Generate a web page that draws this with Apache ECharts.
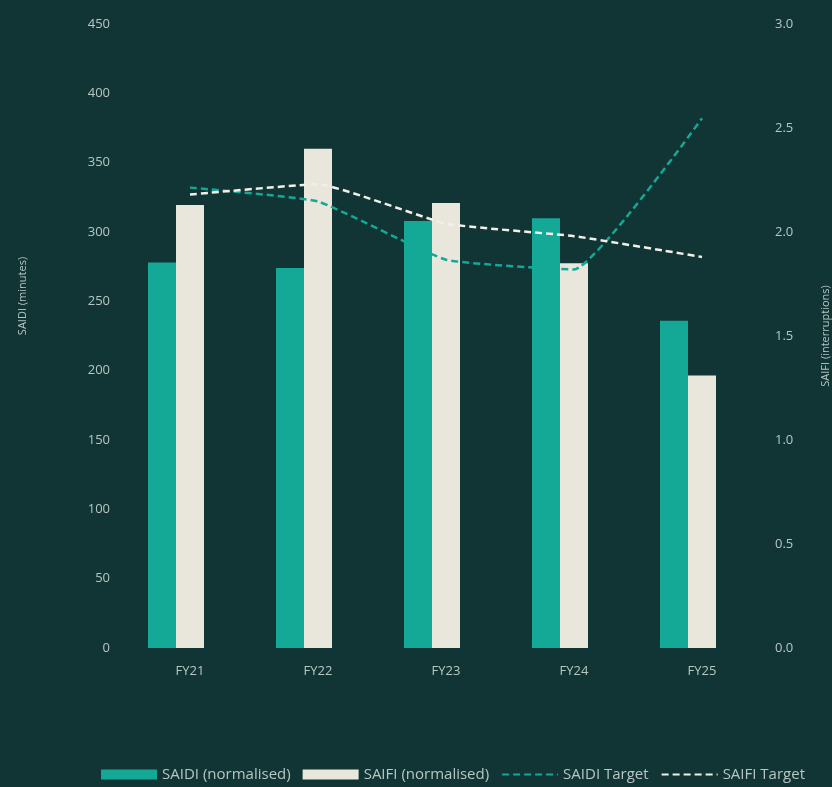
<!DOCTYPE html>
<html>
<head>
<meta charset="utf-8">
<style>
  html, body { margin: 0; padding: 0; background: #113535; }
  #chart { width: 832px; height: 787px; }
</style>
<script src="https://cdn.jsdelivr.net/npm/echarts@6/dist/echarts.min.js"></script>
</head>
<body>
<div id="chart"></div>
<script>
// Financial years on the category axis
const years = ['FY21', 'FY22', 'FY23', 'FY24', 'FY25'];

// SAIDI (minutes), normalised – left axis
const saidi = [278, 274, 308, 310, 236];
// SAIFI (interruptions), normalised – right axis
const saifi = [2.13, 2.40, 2.14, 1.85, 1.31];

// Regulatory targets
const saidiTarget = [332, 322, 280, 273, 382];
const saifiTarget = [2.18, 2.23, 2.04, 1.98, 1.88];

// Axis ticks
const saidiTicks = { min: 0, max: 450, interval: 50 };
const saifiTicks = { min: 0, max: 3, interval: 0.5 };

const textColor = '#b7c6c2';
const teal = '#14a897';
const cream = '#e9e7dc';
const lineWhite = '#f1efe7';
const font = '"Open Sans", Lato, sans-serif';

const chart = echarts.init(document.getElementById('chart'), null, { renderer: 'canvas' });

chart.setOption({
  backgroundColor: '#113535',
  animation: false,
  textStyle: { fontFamily: font },
  grid: { left: 126, right: 66, top: 24, bottom: 139, outerBoundsMode: 'none', containLabel: false },
  legend: {
    data: [
      { name: 'SAIDI (normalised)', icon: 'rect' },
      { name: 'SAIFI (normalised)', icon: 'rect' },
      { name: 'SAIDI Target', itemStyle: { opacity: 0 } },
      { name: 'SAIFI Target', itemStyle: { opacity: 0 } }
    ],
    right: 22,
    bottom: 0,
    itemWidth: 56,
    itemHeight: 10,
    itemGap: 12,
    textStyle: { color: textColor, fontSize: 15, fontFamily: font }
  },
  xAxis: {
    type: 'category',
    data: years,
    axisLine: { show: false },
    axisTick: { show: false },
    axisLabel: { color: textColor, fontSize: 13, margin: 17 }
  },
  yAxis: [
    {
      type: 'value',
      min: saidiTicks.min, max: saidiTicks.max, interval: saidiTicks.interval,
      name: 'SAIDI (minutes)',
      nameLocation: 'middle',
      nameRotate: 90,
      nameGap: 98,
      nameTextStyle: { color: textColor, fontSize: 11, padding: [0, 0, 0, 80] },
      splitLine: { show: false },
      axisLine: { show: false },
      axisTick: { show: false },
      axisLabel: { color: textColor, fontSize: 13, margin: 16 }
    },
    {
      type: 'value',
      min: saifiTicks.min, max: saifiTicks.max, interval: saifiTicks.interval,
      name: 'SAIFI (interruptions)',
      nameLocation: 'middle',
      nameRotate: 90,
      nameGap: 54,
      nameTextStyle: { color: textColor, fontSize: 11 },
      splitLine: { show: false },
      axisLine: { show: false },
      axisTick: { show: false },
      axisLabel: {
        color: textColor, fontSize: 13, margin: 9,
        formatter: v => v.toFixed(1)
      }
    }
  ],
  series: [
    {
      name: 'SAIDI (normalised)',
      type: 'bar',
      data: saidi,
      yAxisIndex: 0,
      barWidth: 28,
      barGap: '0%',
      itemStyle: { color: teal }
    },
    {
      name: 'SAIFI (normalised)',
      type: 'bar',
      data: saifi,
      yAxisIndex: 1,
      barWidth: 28,
      barGap: '0%',
      itemStyle: { color: cream }
    },
    {
      // empty slot that keeps the bar pair left of the category centre
      name: 'spacer',
      type: 'bar',
      data: [],
      barWidth: 28,
      barGap: '0%',
      silent: true
    },
    {
      name: 'SAIDI Target',
      type: 'line',
      data: saidiTarget,
      yAxisIndex: 0,
      smooth: 0.12,
      symbol: 'none',
      lineStyle: { color: teal, width: 2.5, type: [7, 4] },
      itemStyle: { color: teal },
      z: 5
    },
    {
      name: 'SAIFI Target',
      type: 'line',
      data: saifiTarget,
      yAxisIndex: 1,
      smooth: 0.12,
      symbol: 'none',
      lineStyle: { color: lineWhite, width: 2.5, type: [7, 4] },
      itemStyle: { color: lineWhite },
      z: 6
    }
  ]
});
</script>
</body>
</html>
